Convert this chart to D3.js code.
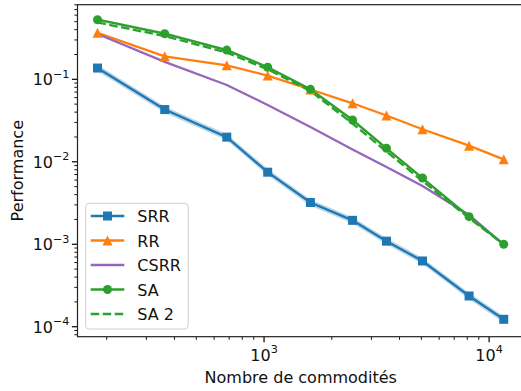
<!DOCTYPE html>
<html>
<head>
<meta charset="utf-8">
<script src="https://cdn.jsdelivr.net/npm/d3@7"></script>
<style>
  html, body { margin: 0; padding: 0; background: #fff; }
  svg { display: block; font-family: "DejaVu Sans", sans-serif; }
</style>
</head>
<body>
<svg id="chart" width="521" height="391"></svg>
<script>
// Number of commodities per instance
const commodites = [182, 362, 683, 1038, 1607, 2473, 3500, 5058, 8147, 11614];

// Mean performance of each method
const srr  = [0.137, 0.0430, 0.0199, 0.00748, 0.00321, 0.00195, 0.00109, 0.000627, 0.000236, 0.000123];
const rr   = [0.366, 0.190, 0.148, 0.111, 0.0752, 0.0512, 0.0364, 0.0248, 0.0157, 0.0107];
const csrr = [0.354, 0.163, 0.0853, 0.0488, 0.0264, 0.0141, 0.00865, 0.00508, 0.00226, 0.000993];
const sa   = [0.528, 0.357, 0.226, 0.140, 0.0756, 0.0321, 0.01455, 0.00635, 0.00216, 0.000998];
const sa2  = [0.489, 0.335, 0.211, 0.132, 0.0722, 0.0291, 0.0133, 0.00585, 0.00208, 0.000993];

// Spread around the mean (shaded bands)
const srrLow  = [0.125, 0.0394, 0.0183, 0.00686, 0.00294, 0.00179, 0.00100, 0.000575, 0.000216, 0.000112];
const srrHigh = [0.150, 0.0469, 0.0217, 0.00815, 0.00350, 0.00212, 0.00119, 0.000683, 0.000258, 0.000134];
const saLow   = [0.508, 0.343, 0.217, 0.134, 0.0726, 0.0308, 0.0140, 0.00610, 0.00207, 0.000958];
const saHigh  = [0.549, 0.371, 0.235, 0.146, 0.0786, 0.0334, 0.0151, 0.00660, 0.00225, 0.00104];

// Axis ticks
const xMajorTicks = [1e3, 1e4];
const xTickExp = ["3", "4"];
const yMajorTicks = [1e-1, 1e-2, 1e-3, 1e-4];
const yTickExp = ["\u22121", "\u22122", "\u22123", "\u22124"];

const colors = { srr: "#1f77b4", rr: "#ff7f0e", csrr: "#9467bd", sa: "#2ca02c" };
const textColor = "#111";

const svg = d3.select("#chart");
const pLeft = 77.5, pRight = 524, pTop = 4.7, pBottom = 336.7;

const x = d3.scaleLog().domain([148.3, 14290]).range([pLeft, pRight]);
const y = d3.scaleLog().domain([7.57e-5, 0.803]).range([pBottom, pTop]);

const plot = svg.append("g");

// Shaded bands
const band = (lo, hi) => d3.area()
  .x((d, i) => x(commodites[i]))
  .y0((d, i) => y(lo[i]))
  .y1((d, i) => y(hi[i]))(commodites);

plot.append("path").attr("d", band(srrLow, srrHigh))
  .attr("fill", colors.srr).attr("opacity", 0.3);
plot.append("path").attr("d", band(saLow, saHigh))
  .attr("fill", colors.sa).attr("opacity", 0.3);

const line = d3.line().x((d, i) => x(commodites[i])).y(d => y(d));
const lw = 2.3;
const dashed = "8.5,3.5";

function drawLine(vals, color, dash) {
  plot.append("path").attr("d", line(vals))
    .attr("fill", "none").attr("stroke", color).attr("stroke-width", lw)
    .attr("stroke-dasharray", dash || null);
}

drawLine(srr, colors.srr);
drawLine(rr, colors.rr);
drawLine(csrr, colors.csrr);
drawLine(sa, colors.sa);
drawLine(sa2, colors.sa, dashed);

// Marker shapes
const ms = 9;
function marker(g, kind, cx, cy, color) {
  if (kind === "square") {
    g.append("rect").attr("x", cx - ms / 2).attr("y", cy - ms / 2)
      .attr("width", ms).attr("height", ms).attr("fill", color);
  } else if (kind === "triangle") {
    const r = ms / 2 + 0.5;
    g.append("path")
      .attr("d", `M${cx},${cy - r}L${cx - r},${cy + r}L${cx + r},${cy + r}Z`)
      .attr("fill", color);
  } else if (kind === "circle") {
    g.append("circle").attr("cx", cx).attr("cy", cy).attr("r", ms / 2).attr("fill", color);
  }
}

srr.forEach((v, i) => marker(plot, "square", x(commodites[i]), y(v), colors.srr));
rr.forEach((v, i) => marker(plot, "triangle", x(commodites[i]), y(v), colors.rr));
sa.forEach((v, i) => marker(plot, "circle", x(commodites[i]), y(v), colors.sa));

// Axes: minor and major ticks
const axes = svg.append("g");
const xMinor = [];
for (let e = 2; e <= 4; e++) for (let m = 2; m <= 9; m++) {
  const v = m * Math.pow(10, e);
  if (v >= x.domain()[0] && v <= x.domain()[1]) xMinor.push(v);
}
const yMinor = [];
for (let e = -5; e <= 0; e++) for (let m = 2; m <= 9; m++) {
  const v = m * Math.pow(10, e);
  if (v >= y.domain()[0] && v <= y.domain()[1]) yMinor.push(v);
}

axes.selectAll(".xminor").data(xMinor).join("line")
  .attr("x1", d => x(d)).attr("x2", d => x(d))
  .attr("y1", pBottom).attr("y2", pBottom + 3.2)
  .attr("stroke", "#000").attr("stroke-width", 0.9);
axes.selectAll(".xmajor").data(xMajorTicks).join("line")
  .attr("x1", d => x(d)).attr("x2", d => x(d))
  .attr("y1", pBottom).attr("y2", pBottom + 5.6)
  .attr("stroke", "#000").attr("stroke-width", 1.2);
axes.selectAll(".yminor").data(yMinor).join("line")
  .attr("y1", d => y(d)).attr("y2", d => y(d))
  .attr("x1", pLeft).attr("x2", pLeft - 3.2)
  .attr("stroke", "#000").attr("stroke-width", 0.9);
axes.selectAll(".ymajor").data(yMajorTicks).join("line")
  .attr("y1", d => y(d)).attr("y2", d => y(d))
  .attr("x1", pLeft).attr("x2", pLeft - 5.6)
  .attr("stroke", "#000").attr("stroke-width", 1.2);

// Tick labels with exponents
const fs = 16, sfs = 11.2;
xMajorTicks.forEach((v, i) => {
  const t = axes.append("text").attr("x", x(v)).attr("y", pBottom + 24)
    .attr("text-anchor", "middle").attr("font-size", fs).attr("fill", textColor);
  t.append("tspan").text("10");
  t.append("tspan").attr("font-size", sfs).attr("dy", -7.3).text(xTickExp[i]);
});
yMajorTicks.forEach((v, i) => {
  const t = axes.append("text").attr("x", pLeft - 8).attr("y", y(v) + 6)
    .attr("text-anchor", "end").attr("font-size", fs).attr("fill", textColor);
  t.append("tspan").text("10");
  t.append("tspan").attr("font-size", sfs).attr("dy", -7.3).text(yTickExp[i]);
});

// Frame
axes.append("rect").attr("x", pLeft).attr("y", pTop)
  .attr("width", pRight - pLeft).attr("height", pBottom - pTop)
  .attr("fill", "none").attr("stroke", "#222").attr("stroke-width", 1.2);

// Axis titles
svg.append("text").attr("x", (pLeft + pRight) / 2).attr("y", 382.5)
  .attr("text-anchor", "middle").attr("font-size", fs).attr("fill", textColor)
  .text("Nombre de commodités");
svg.append("text").attr("transform", `translate(22.5,${(pTop + pBottom) / 2}) rotate(-90)`)
  .attr("text-anchor", "middle").attr("font-size", fs).attr("fill", textColor)
  .text("Performance");

// Legend
const legendItems = [
  { name: "SRR", color: colors.srr, mark: "square" },
  { name: "RR", color: colors.rr, mark: "triangle" },
  { name: "CSRR", color: colors.csrr, mark: null },
  { name: "SA", color: colors.sa, mark: "circle" },
  { name: "SA 2", color: colors.sa, mark: null, dash: dashed }
];
const lg = svg.append("g");
lg.append("rect").attr("x", 85.7).attr("y", 203.3).attr("width", 102.5).attr("height", 125.7)
  .attr("rx", 3.5).attr("fill", "#fff").attr("fill-opacity", 0.8)
  .attr("stroke", "#d0d0d0").attr("stroke-width", 1);
legendItems.forEach((d, i) => {
  const cy = 216 + i * 24.5;
  lg.append("line").attr("x1", 90.7).attr("x2", 124.3).attr("y1", cy).attr("y2", cy)
    .attr("stroke", d.color).attr("stroke-width", lw)
    .attr("stroke-dasharray", d.dash || null);
  if (d.mark) marker(lg, d.mark, 107.5, cy, d.color);
  lg.append("text").attr("x", 137.3).attr("y", cy + 6).attr("font-size", fs)
    .attr("fill", textColor).text(d.name);
});
</script>
</body>
</html>
